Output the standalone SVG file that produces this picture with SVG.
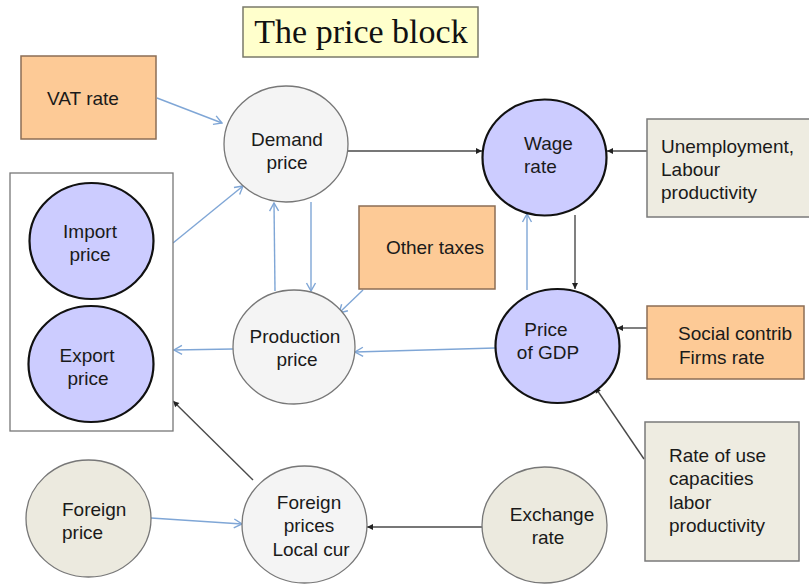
<svg xmlns="http://www.w3.org/2000/svg" width="809" height="588" viewBox="0 0 809 588">
<defs>
<style>
text{font-family:"Liberation Sans",Arial,sans-serif;font-size:19px;fill:#1a1a1a}
.c{text-anchor:middle}
.title{font-family:"Liberation Serif","Times New Roman",serif;font-size:34px;fill:#111}
.orange{fill:#fdca96;stroke:#8c6e55;stroke-width:1.5}
.tan{fill:#eeece1;stroke:#7a7a7a;stroke-width:1.5}
.grey{fill:#f4f4f4;stroke:#777;stroke-width:1.3}
.tanc{fill:#eceadf;stroke:#777;stroke-width:1.3}
.purple{fill:#ccccff;stroke:#111;stroke-width:2.2}
.blue{stroke:#7fa6d6;stroke-width:1.4;fill:none;marker-end:url(#ab)}
.dark{stroke:#4a4a4a;stroke-width:1.4;fill:none;marker-end:url(#ad)}
</style>
<marker id="ab" markerUnits="userSpaceOnUse" markerWidth="12" markerHeight="12" viewBox="0 0 12 12" refX="11" refY="6" orient="auto">
<path d="M3,1.5 L11,6 L3,10.5" fill="none" stroke="#7fa6d6" stroke-width="1.4"/>
</marker>
<marker id="ad" markerUnits="userSpaceOnUse" markerWidth="10" markerHeight="10" viewBox="0 0 10 10" refX="9" refY="5" orient="auto">
<path d="M3,2 L9,5 L3,8 Z" fill="#222"/>
</marker>
</defs>
<rect width="809" height="588" fill="#ffffff"/>

<g id="title">
<rect x="243" y="7" width="235" height="50" fill="#ffffcc" stroke="#7a7a6a" stroke-width="1.5"/>
<text class="title c" x="361" y="43">The price block</text>
</g>

<g id="connectors">
<line class="blue" x1="157" y1="98" x2="222" y2="123"/>
<line class="blue" x1="173" y1="243" x2="243" y2="186"/>
<line class="blue" x1="275" y1="291" x2="274" y2="203"/>
<line class="blue" x1="311" y1="202" x2="311" y2="291"/>
<line class="blue" x1="363" y1="290" x2="339" y2="313"/>
<line class="blue" x1="495" y1="348" x2="355" y2="352"/>
<line class="blue" x1="233" y1="349" x2="174" y2="350"/>
<line class="blue" x1="527" y1="290" x2="527" y2="214"/>
<line class="blue" x1="151" y1="518" x2="242" y2="524"/>
<line class="dark" x1="348" y1="151" x2="482" y2="151"/>
<line class="dark" x1="647" y1="151" x2="607" y2="151"/>
<line class="dark" x1="575" y1="215" x2="575" y2="289"/>
<line class="dark" x1="647" y1="328" x2="617" y2="328"/>
<line class="dark" x1="644" y1="459" x2="595" y2="387"/>
<line class="dark" x1="253" y1="480" x2="173" y2="401"/>
<line class="dark" x1="482" y1="527" x2="367" y2="527"/>
</g>

<g id="vat-rate">
<rect class="orange" x="21" y="56" width="135" height="83"/>
<text class="c" x="83" y="105">VAT rate</text>
</g>

<g id="demand-price">
<ellipse class="grey" cx="286" cy="144" rx="62" ry="58"/>
<text class="c" x="287" y="146">Demand</text>
<text class="c" x="287" y="169">price</text>
</g>

<g id="wage-rate">
<ellipse class="purple" cx="544.5" cy="157.5" rx="62" ry="58"/>
<text x="524" y="150">Wage</text>
<text x="524" y="173">rate</text>
</g>

<g id="unemployment">
<rect class="tan" x="647" y="119" width="165" height="98"/>
<text x="661" y="153">Unemployment,</text>
<text x="661" y="176">Labour</text>
<text x="661" y="199">productivity</text>
</g>

<g id="trade-prices">
<rect x="10" y="173" width="163" height="258" fill="#ffffff" stroke="#777" stroke-width="1.3"/>
</g>

<g id="import-price">
<ellipse class="purple" cx="91.5" cy="241" rx="62" ry="58"/>
<text class="c" x="90" y="238">Import</text>
<text class="c" x="90" y="261">price</text>
</g>

<g id="export-price">
<ellipse class="purple" cx="91" cy="364" rx="62.5" ry="58"/>
<text class="c" x="87" y="362">Export</text>
<text class="c" x="88" y="385">price</text>
</g>

<g id="other-taxes">
<rect class="orange" x="359" y="206" width="136" height="83"/>
<text class="c" x="435" y="254">Other taxes</text>
</g>

<g id="production-price">
<ellipse class="grey" cx="294" cy="347" rx="61" ry="57"/>
<text class="c" x="295" y="343">Production</text>
<text class="c" x="297" y="366">price</text>
</g>

<g id="price-of-gdp">
<ellipse class="purple" cx="557.5" cy="346" rx="62" ry="57"/>
<text class="c" x="546" y="336">Price</text>
<text class="c" x="548" y="359">of GDP</text>
</g>

<g id="social-contrib">
<rect class="orange" x="647" y="306" width="157" height="73"/>
<text x="678" y="340">Social contrib</text>
<text x="679" y="364">Firms rate</text>
</g>

<g id="rate-of-use">
<rect class="tan" x="645" y="422" width="154" height="139"/>
<text x="669" y="462">Rate of use</text>
<text x="669" y="485">capacities</text>
<text x="669" y="509">labor</text>
<text x="669" y="532">productivity</text>
</g>

<g id="foreign-price">
<ellipse class="tanc" cx="88.5" cy="518.5" rx="62.5" ry="58.5"/>
<text x="62" y="516">Foreign</text>
<text x="62" y="539">price</text>
</g>

<g id="foreign-prices-local">
<ellipse class="grey" cx="304.5" cy="524.5" rx="62.5" ry="58.5"/>
<text class="c" x="309" y="509">Foreign</text>
<text class="c" x="309" y="532">prices</text>
<text class="c" x="311" y="556">Local cur</text>
</g>

<g id="exchange-rate">
<ellipse class="tanc" cx="544.5" cy="525" rx="62.5" ry="58"/>
<text class="c" x="552" y="521">Exchange</text>
<text class="c" x="548" y="544">rate</text>
</g>
</svg>
